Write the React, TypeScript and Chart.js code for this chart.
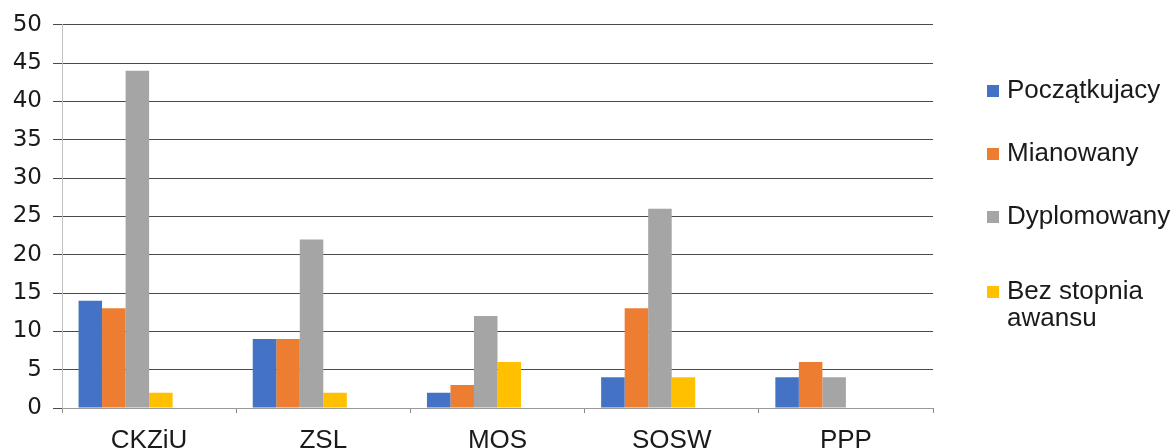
import React, { useEffect, useRef } from "react";
import { Chart, registerables } from "chart.js";

Chart.register(...registerables);

const categories = ["CKZiU", "ZSL", "MOS", "SOSW", "PPP"];
const poczatkujacy = [14, 9, 2, 4, 4];
const mianowany = [13, 9, 3, 13, 6];
const dyplomowany = [44, 22, 12, 26, 4];
const bezStopnia = [2, 2, 6, 4, 0];
const seriesNames = ["Początkujacy", "Mianowany", "Dyplomowany", "Bez stopnia awansu"];
const legendLines = [["Początkujacy"], ["Mianowany"], ["Dyplomowany"], ["Bez stopnia", "awansu"]];
const seriesColors = ["#4472C4", "#ED7D31", "#A5A5A5", "#FFC000"];
const yTicks = [0, 5, 10, 15, 20, 25, 30, 35, 40, 45, 50];
// two empty slots that the original Excel chart reserved after the four bars
const emptySlots: number[][] = [[], []];

const legendBaselines = [98, 161, 224, 299];

const legendPlugin = {
  id: "sideLegend",
  afterDraw(chart: any) {
    const ctx = chart.ctx;
    const area = chart.chartArea;
    ctx.save();
    ctx.font = "26px 'Liberation Sans', Arial, sans-serif";
    ctx.textBaseline = "alphabetic";
    ctx.textAlign = "left";
    const x0 = area.right + 54;
    legendLines.forEach((lines, i) => {
      const b = legendBaselines[i];
      ctx.fillStyle = seriesColors[i];
      ctx.fillRect(x0, b - 13, 12, 12);
      ctx.fillStyle = "#1a1a1a";
      lines.forEach((ln, j) => ctx.fillText(ln, x0 + 20, b + j * 27));
    });
    ctx.restore();
  },
};

export default function App() {
  const ref = useRef<HTMLCanvasElement>(null);
  useEffect(() => {
    if (!ref.current) return;
    const values = [poczatkujacy, mianowany, dyplomowany, bezStopnia];
    const datasets: any[] = values.map((v, i) => ({
      label: seriesNames[i],
      data: v,
      backgroundColor: seriesColors[i],
      borderWidth: 0,
      barPercentage: 1,
      categoryPercentage: 0.81,
    }));
    emptySlots.forEach((v, i) =>
      datasets.push({
        label: "",
        data: v,
        backgroundColor: "rgba(0,0,0,0)",
        borderWidth: 0,
        barPercentage: 1,
        categoryPercentage: 0.81,
      })
    );
    const chart = new Chart(ref.current, {
      type: "bar",
      data: { labels: categories, datasets },
      plugins: [legendPlugin],
      options: {
        animation: false,
        responsive: false,
        maintainAspectRatio: false,
        layout: { padding: { top: 24, right: 241, left: 0, bottom: 0 } },
        plugins: { legend: { display: false }, tooltip: { enabled: false } },
        scales: {
          x: {
            grid: {
              offset: true,
              drawOnChartArea: false,
              drawTicks: true,
              tickLength: 5,
              color: "#888",
            },
            border: { color: "#999", width: 1 },
            ticks: {
              color: "#1a1a1a",
              font: { family: "'Liberation Sans', Arial, sans-serif", size: 26 },
              padding: 12,
            },
            afterFit(scale: any) {
              scale.height = 40;
            },
          },
          y: {
            min: 0,
            max: 50,
            afterBuildTicks(scale: any) {
              scale.ticks = yTicks.map((v) => ({ value: v }));
            },
            grid: {
              color: "#4a4a4a",
              lineWidth: 1,
              drawTicks: true,
              tickLength: 9,
            },
            border: { display: true, color: "#c0c0c0", width: 1 },
            ticks: {
              color: "#1a1a1a",
              font: { family: "'DejaVu Sans', sans-serif", size: 23 },
              padding: 11,
            },
            afterFit(scale: any) {
              scale.width = 62;
            },
          },
        },
      },
    });
    return () => chart.destroy();
  }, []);
  return (
    <div style={{ position: "absolute", left: 0, top: 0, width: 1174, height: 448, background: "#fff" }}>
      <canvas ref={ref} width={1174} height={448} style={{ width: 1174, height: 448 }} />
    </div>
  );
}
